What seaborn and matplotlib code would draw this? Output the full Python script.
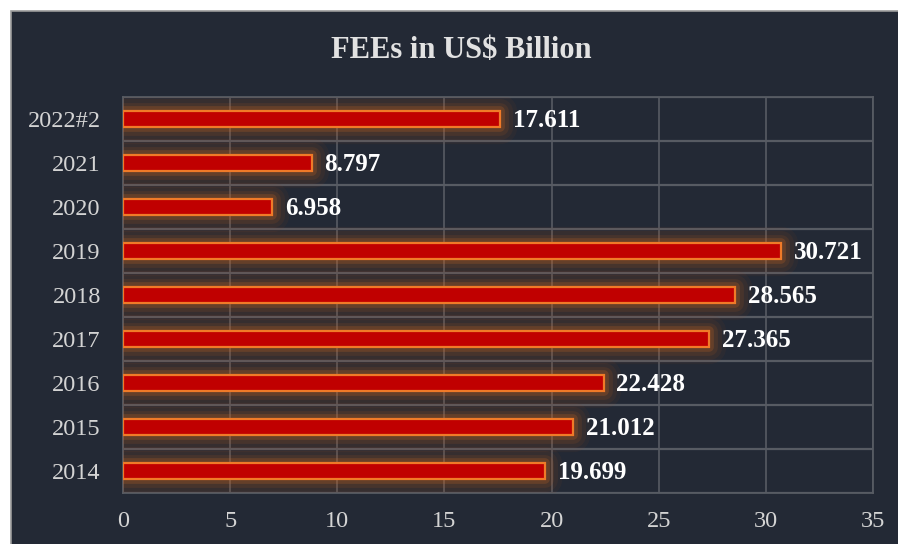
import matplotlib
matplotlib.use("Agg")
import matplotlib.pyplot as plt
import matplotlib.patheffects as pe
from matplotlib.patches import Rectangle
import seaborn as sns
import pandas as pd

# data, top row first
years = ['2022#2', '2021', '2020', '2019', '2018', '2017', '2016', '2015', '2014']
fees = [17.611, 8.797, 6.958, 30.721, 28.565, 27.365, 22.428, 21.012, 19.699]
x_ticks = [0, 5, 10, 15, 20, 25, 30, 35]

BG = '#232935'
GRID = '#575b63'

sns.set_style('dark')
plt.rcParams['font.family'] = ['Liberation Serif', 'DejaVu Serif']

df = pd.DataFrame({'year': years, 'fees': fees})

fig = plt.figure(figsize=(8.98, 5.44), dpi=100)
fig.patch.set_facecolor('white')
# dark panel, page border shows on top and left only
fig.patches.append(Rectangle((11 / 898, -0.1), 1.2, 1.1 - 11 / 544, transform=fig.transFigure,
                             facecolor=BG, edgecolor='#9a9a9a', linewidth=1.2, zorder=-5))

ax = fig.add_axes([123 / 898, 1 - 492.7 / 544, 750 / 898, (492.7 - 97) / 544])
ax.set_zorder(2)
ax.set_facecolor(BG)

sns.barplot(data=df, x='fees', y='year', orient='h', width=0.36, color='#c00000',
            edgecolor='#f07a28', linewidth=1.6, saturation=1, ax=ax, zorder=3)

# soft orange glow round the bars
glow = [pe.Stroke(linewidth=24, foreground='#a04818', alpha=0.07, joinstyle='round'),
        pe.Stroke(linewidth=18, foreground='#b0521a', alpha=0.09, joinstyle='round'),
        pe.Stroke(linewidth=12, foreground='#c05e1e', alpha=0.13, joinstyle='round'),
        pe.Stroke(linewidth=7, foreground='#d06a22', alpha=0.22, joinstyle='round'),
        pe.Normal()]
for p in ax.patches:
    p.set_path_effects(glow)

for i, v in enumerate(fees):
    ax.text(v + 0.6, i + 0.04, f'{v:.3f}', va='center', ha='left', color='white',
            fontsize=18, fontweight='bold', zorder=5)

ax.set_xlim(0, 35)
ax.set_xticks(x_ticks)
ax.set_xticklabels([str(t) for t in x_ticks])
ax.set_ylim(8.5, -0.5)
ax.set_yticks(range(len(years)), minor=False)
ax.set_yticks([k + 0.5 for k in range(-1, len(years))], minor=True)
ax.grid(False)
ax.xaxis.grid(True, which='major', color=GRID, linewidth=1.2, zorder=1)
ax.yaxis.grid(True, which='minor', color=GRID, linewidth=1.6, zorder=1)
ax.set_axisbelow(True)

ax.tick_params(axis='both', which='both', length=0, colors='#d4d4d4', labelsize=17.5)
ax.tick_params(axis='y', pad=16)
ax.tick_params(axis='x', pad=13)
ax.set_xlabel('')
ax.set_ylabel('')
for s in ax.spines.values():
    s.set_visible(True)
    s.set_color(GRID)
    s.set_linewidth(1.3)

fig.text(461 / 898, 1 - 50 / 544, 'FEEs in US$ Billion', ha='center', va='center',
         color='#e2e2e2', fontsize=22, fontweight='bold')

fig.savefig('out.png', dpi=100, facecolor=fig.get_facecolor())
